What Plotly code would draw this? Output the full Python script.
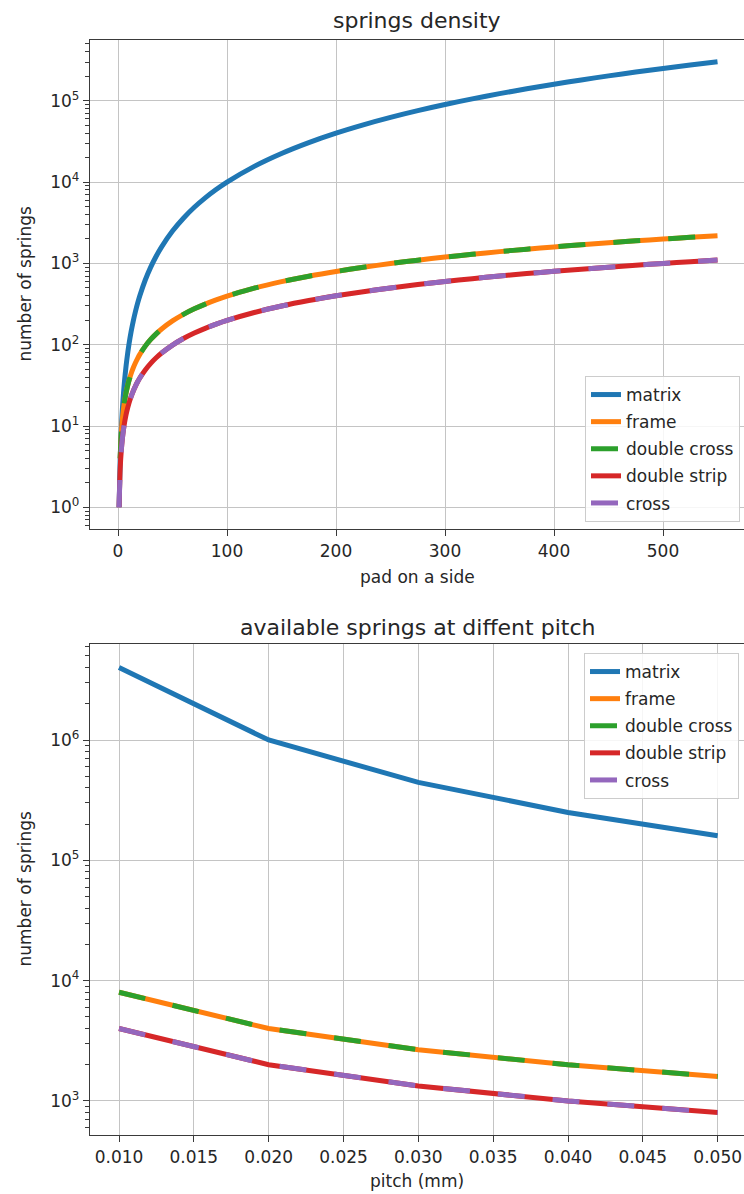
import plotly.graph_objects as go

# ---------------- data: top chart (springs density) ----------------
pad_on_side = [1, 2, 3, 4, 5, 6, 7, 8, 10, 12, 14, 16, 18, 20, 25, 30, 35, 40, 50, 60, 70, 80, 90,
               100, 125, 150, 175, 200, 225, 250, 275, 300, 325, 350, 375, 400, 425, 450, 475, 500, 525, 550]
matrix_density = [1, 4, 9, 16, 25, 36, 49, 64, 100, 144, 196, 256, 324, 400, 625, 900, 1225, 1600, 2500,
                  3600, 4900, 6400, 8100, 10000, 15625, 22500, 30625, 40000, 50625, 62500, 75625, 90000,
                  105625, 122500, 140625, 160000, 180625, 202500, 225625, 250000, 275625, 302500]
frame_density = [None, 4, 8, 12, 16, 20, 24, 28, 36, 44, 52, 60, 68, 76, 96, 116, 136, 156, 196, 236, 276,
                 316, 356, 396, 496, 596, 696, 796, 896, 996, 1096, 1196, 1296, 1396, 1496, 1596, 1696,
                 1796, 1896, 1996, 2096, 2196]
double_cross_density = [None, 4, 8, 12, 16, 20, 24, 28, 36, 44, 52, 60, 68, 76, 96, 116, 136, 156, 196, 236,
                        276, 316, 356, 396, 496, 596, 696, 796, 896, 996, 1096, 1196, 1296, 1396, 1496,
                        1596, 1696, 1796, 1896, 1996, 2096, 2196]
double_strip_density = [1, 3, 5, 7, 9, 11, 13, 15, 19, 23, 27, 31, 35, 39, 49, 59, 69, 79, 99, 119, 139,
                        159, 179, 199, 249, 299, 349, 399, 449, 499, 549, 599, 649, 699, 749, 799, 849,
                        899, 949, 999, 1049, 1099]
cross_density = [1, 3, 5, 7, 9, 11, 13, 15, 19, 23, 27, 31, 35, 39, 49, 59, 69, 79, 99, 119, 139,
                 159, 179, 199, 249, 299, 349, 399, 449, 499, 549, 599, 649, 699, 749, 799, 849,
                 899, 949, 999, 1049, 1099]

# ---------------- data: bottom chart (available springs) ----------------
pitch_mm = [0.010, 0.020, 0.030, 0.040, 0.050]
matrix_avail = [4000000, 1000000, 444444, 250000, 160000]
frame_avail = [8000, 4000, 2667, 2000, 1600]
double_cross_avail = [8000, 4000, 2667, 2000, 1600]
double_strip_avail = [4000, 2000, 1333, 1000, 800]
cross_avail = [4000, 2000, 1333, 1000, 800]

series_names = ["matrix", "frame", "double cross", "double strip", "cross"]
top_x_ticks = [0, 100, 200, 300, 400, 500]
top_y_tickvals = [1, 10, 100, 1000, 10000, 100000]
top_y_ticktext = ["10<sup>0</sup>", "10<sup>1</sup>", "10<sup>2</sup>", "10<sup>3</sup>",
                  "10<sup>4</sup>", "10<sup>5</sup>"]
bot_y_tickvals = [1000, 10000, 100000, 1000000]
bot_y_ticktext = ["10<sup>3</sup>", "10<sup>4</sup>", "10<sup>5</sup>", "10<sup>6</sup>"]

colors = ["#1f77b4", "#ff7f0e", "#2ca02c", "#d62728", "#9467bd"]
dashes = ["solid", "solid", "27px,28px", "solid", "27px,28px"]

FONT = "DejaVu Sans"
W, H = 744, 1194
L = 90

fig = go.Figure()

top_series = [matrix_density, frame_density, double_cross_density, double_strip_density, cross_density]
for i, (name, ys, c, d) in enumerate(zip(series_names, top_series, colors, dashes)):
    fig.add_trace(go.Scatter(x=pad_on_side, y=ys, name=name, mode="lines",
                             line=dict(color=c, width=5, dash=d, shape="spline", smoothing=0.8),
                             xaxis="x", yaxis="y", legend="legend", legendgroup=f"top{i}"))

bot_series = [matrix_avail, frame_avail, double_cross_avail, double_strip_avail, cross_avail]
for i, (name, ys, c, d) in enumerate(zip(series_names, bot_series, colors, dashes)):
    fig.add_trace(go.Scatter(x=pitch_mm, y=ys, name=name, mode="lines",
                             line=dict(color=c, width=5, dash=d),
                             xaxis="x2", yaxis="y2", legend="legend2", legendgroup=f"bot{i}"))


def ypix(p):
    return 1 - p / H


def minor_vals(lo, hi):
    return [m * 10 ** e for e in range(lo, hi) for m in range(2, 10)]


grid = "#c4c4c4"
spine = "#3a3a3a"
tickfont = dict(family=FONT, size=17, color="#262626")

common_x = dict(showgrid=True, gridcolor=grid, gridwidth=1, showline=True, linecolor=spine,
                linewidth=1.3, mirror=True, ticks="outside", ticklen=6, tickwidth=1.3,
                tickcolor=spine, tickfont=tickfont, zeroline=False)
common_y = dict(type="log", showgrid=True, gridcolor=grid, gridwidth=1, showline=True,
                linecolor=spine, linewidth=1.3, mirror=False, ticks="outside", ticklen=6,
                tickwidth=1.3, tickcolor=spine, tickfont=tickfont, zeroline=False)

legend_common = dict(bgcolor="rgba(255,255,255,0.85)", bordercolor="#cccccc", borderwidth=1,
                     tracegroupgap=2, font=dict(family=FONT, size=17, color="#262626"))

fig.update_layout(
    width=W, height=H,
    margin=dict(l=L, r=0, t=0, b=0),
    paper_bgcolor="white", plot_bgcolor="white",
    font=dict(family=FONT, size=17, color="#262626"),
    xaxis=dict(domain=[0, 1], anchor="y", range=[-25.7, 574.3], tickvals=top_x_ticks, **common_x),
    yaxis=dict(domain=[ypix(529), ypix(40)], anchor="x", range=[-0.267, 5.748],
               tickvals=top_y_tickvals, ticktext=top_y_ticktext,
               minor=dict(tickvals=minor_vals(-1, 6), ticks="outside", ticklen=3.5,
                          tickwidth=1, tickcolor=spine, showgrid=False),
               **common_y),
    xaxis2=dict(domain=[0, 1], anchor="y2", range=[0.008062, 0.051758], tick0=0.01, dtick=0.005,
                tickformat=".3f", **common_x),
    yaxis2=dict(domain=[ypix(1135), ypix(644)], anchor="x2", range=[2.717, 6.798],
                tickvals=bot_y_tickvals, ticktext=bot_y_ticktext,
                minor=dict(tickvals=minor_vals(2, 7), ticks="outside", ticklen=3.5,
                           tickwidth=1, tickcolor=spine, showgrid=False),
                **common_y),
    legend=dict(x=1 - 4 / (W - L), y=ypix(522), xanchor="right", yanchor="bottom", **legend_common),
    legend2=dict(x=1 - 5 / (W - L), y=ypix(653), xanchor="right", yanchor="top", **legend_common),
    showlegend=True,
)

ann_font = dict(family=FONT, size=17, color="#262626")
title_font = dict(family=FONT, size=22, color="#262626")
fig.add_annotation(text="springs density", xref="paper", yref="paper", x=0.5, y=ypix(20),
                   xanchor="center", yanchor="middle", showarrow=False, font=title_font)
fig.add_annotation(text="available springs at diffent pitch", xref="paper", yref="paper", x=0.5,
                   y=ypix(627), xanchor="center", yanchor="middle", showarrow=False, font=title_font)
fig.add_annotation(text="pad on a side", xref="paper", yref="paper", x=0.5, y=ypix(577),
                   xanchor="center", yanchor="middle", showarrow=False, font=ann_font)
fig.add_annotation(text="pitch (mm)", xref="paper", yref="paper", x=0.5, y=ypix(1181),
                   xanchor="center", yanchor="middle", showarrow=False, font=ann_font)
fig.add_annotation(text="number of springs", xref="paper", yref="paper", x=(24 - L) / (W - L),
                   y=ypix(284.5), xanchor="center", yanchor="middle", textangle=-90,
                   showarrow=False, font=ann_font)
fig.add_annotation(text="number of springs", xref="paper", yref="paper", x=(24 - L) / (W - L),
                   y=ypix(889.5), xanchor="center", yanchor="middle", textangle=-90,
                   showarrow=False, font=ann_font)

fig.write_html(
    "out.html",
    config={"displayModeBar": False},
    post_script="document.body.style.margin='0';document.body.style.overflow='hidden';"
                "document.documentElement.style.overflow='hidden';",
)
